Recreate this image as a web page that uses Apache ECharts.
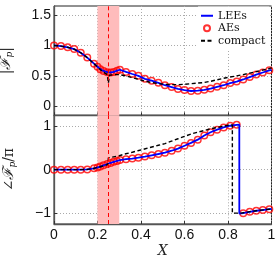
<!DOCTYPE html>
<html><head><meta charset="utf-8">
<script src="https://cdn.jsdelivr.net/npm/echarts@6/dist/echarts.min.js"></script>
<style>html,body{margin:0;padding:0;background:#fff}#c{width:278px;height:258px}</style>
</head><body><div id="c"></div>
<script>
// ---- data ----
const xTicks = [0, 0.2, 0.4, 0.6, 0.8, 1];
const magTicks = [0, 0.5, 1, 1.5];
const phaseTicks = [-1, 0, 1];
const bandRange = [0.2, 0.3];
const sourceX = 0.25;

// AEs markers (x shared by magnitude and phase)
const xAE = [0, 0.032, 0.063, 0.093, 0.123, 0.153, 0.184, 0.2, 0.213, 0.228, 0.245, 0.26, 0.275, 0.29, 0.303, 0.331, 0.36, 0.388, 0.418, 0.449, 0.48, 0.51, 0.541, 0.57, 0.6, 0.63, 0.661, 0.691, 0.72, 0.75, 0.78, 0.81, 0.84, 0.87, 0.9, 0.93, 0.96, 0.99];
const magAE = [1.00, 0.99, 0.97, 0.94, 0.88, 0.80, 0.70, 0.65, 0.61, 0.58, 0.56, 0.555, 0.565, 0.585, 0.60, 0.565, 0.53, 0.50, 0.45, 0.42, 0.385, 0.345, 0.315, 0.285, 0.265, 0.25, 0.255, 0.27, 0.29, 0.32, 0.345, 0.38, 0.405, 0.44, 0.48, 0.52, 0.555, 0.59];
const phaseAE = [0, 0, 0, 0, 0, 0.005, 0.03, 0.05, 0.07, 0.10, 0.13, 0.155, 0.18, 0.20, 0.22, 0.24, 0.255, 0.275, 0.30, 0.33, 0.36, 0.39, 0.435, 0.485, 0.55, 0.615, 0.69, 0.785, 0.86, 0.92, 0.97, 1.01, 1.03, -1.0, -0.97, -0.945, -0.93, -0.91];

// LEEs line
const xLEEmag = [0, 0.032, 0.063, 0.093, 0.123, 0.153, 0.184, 0.2, 0.213, 0.228, 0.245, 0.26, 0.275, 0.29, 0.303, 0.331, 0.36, 0.388, 0.418, 0.449, 0.48, 0.51, 0.541, 0.57, 0.6, 0.63, 0.661, 0.691, 0.72, 0.75, 0.78, 0.81, 0.84, 0.87, 0.9, 0.93, 0.96, 0.99, 1.0];
const magLEE = [1.00, 0.99, 0.97, 0.94, 0.88, 0.80, 0.70, 0.65, 0.61, 0.58, 0.56, 0.555, 0.565, 0.585, 0.60, 0.565, 0.53, 0.50, 0.45, 0.42, 0.385, 0.345, 0.315, 0.285, 0.265, 0.25, 0.255, 0.27, 0.29, 0.32, 0.345, 0.38, 0.405, 0.44, 0.48, 0.52, 0.555, 0.59, 0.60];
const xLEEphase = [0, 0.032, 0.063, 0.093, 0.123, 0.153, 0.184, 0.2, 0.213, 0.228, 0.245, 0.26, 0.275, 0.29, 0.303, 0.331, 0.36, 0.388, 0.418, 0.449, 0.48, 0.51, 0.541, 0.57, 0.6, 0.63, 0.661, 0.691, 0.72, 0.75, 0.78, 0.81, 0.84, 0.852, 0.852, 0.87, 0.9, 0.93, 0.96, 0.99, 1.0];
const phaseLEE = [0, 0, 0, 0, 0, 0.005, 0.03, 0.05, 0.07, 0.10, 0.13, 0.155, 0.18, 0.20, 0.22, 0.24, 0.255, 0.275, 0.30, 0.33, 0.36, 0.39, 0.435, 0.485, 0.55, 0.615, 0.69, 0.785, 0.86, 0.92, 0.97, 1.01, 1.03, 1.035, -1.01, -1.0, -0.97, -0.945, -0.93, -0.91, -0.905];

// compact model
const xCompactMag = [0, 0.032, 0.063, 0.093, 0.123, 0.153, 0.184, 0.2, 0.22, 0.245, 0.25, 0.255, 0.28, 0.3, 0.33, 0.36, 0.39, 0.42, 0.45, 0.48, 0.51, 0.54, 0.57, 0.6, 0.63, 0.66, 0.69, 0.72, 0.75, 0.78, 0.81, 0.84, 0.87, 0.9, 0.93, 0.96, 0.99, 1.0];
const magCompact = [1.0, 0.99, 0.97, 0.94, 0.88, 0.80, 0.70, 0.645, 0.58, 0.52, 0.38, 0.51, 0.52, 0.52, 0.50, 0.47, 0.44, 0.41, 0.39, 0.37, 0.36, 0.355, 0.355, 0.36, 0.37, 0.38, 0.39, 0.41, 0.435, 0.46, 0.48, 0.50, 0.52, 0.545, 0.57, 0.595, 0.62, 0.63];
const xCompactPhase = [0, 0.032, 0.063, 0.093, 0.123, 0.153, 0.184, 0.2, 0.23, 0.248, 0.25, 0.28, 0.3, 0.33, 0.36, 0.39, 0.42, 0.45, 0.48, 0.51, 0.54, 0.57, 0.6, 0.63, 0.66, 0.69, 0.72, 0.75, 0.78, 0.8, 0.82, 0.82, 0.86, 0.9, 0.93, 0.96, 1.0];
const phaseCompact = [0, 0, 0, 0, 0, 0.005, 0.03, 0.05, 0.09, 0.12, 0.27, 0.30, 0.32, 0.365, 0.40, 0.44, 0.48, 0.52, 0.56, 0.60, 0.655, 0.71, 0.765, 0.82, 0.86, 0.90, 0.94, 0.97, 1.0, 1.02, 1.03, -1.0, -1.0, -0.965, -0.945, -0.925, -0.905];

function zip(xs, ys) { return xs.map((x, i) => [x, ys[i]]); }

const tickFont = { fontFamily: 'Liberation Sans, Arial, sans-serif', fontSize: 14, color: '#111' };
const gridLine = { show: true, lineStyle: { color: '#aaa', type: [1, 2], width: 1 } };
const frameColor = '#222';
const noSymbol = 'rgba(0,0,0,0)';

function xAxisCfg(gridIndex, showLabels) {
  return {
    type: 'value', gridIndex, min: xTicks[0], max: xTicks[xTicks.length - 1], interval: 0.2,
    axisLine: { show: true, onZero: false, lineStyle: { color: '#555', width: 1.3 } },
    axisTick: { show: true, inside: true, length: 3, lineStyle: { color: '#333' } },
    axisLabel: Object.assign({ show: showLabels, margin: 4 }, tickFont),
    splitLine: gridLine
  };
}

function yAxisCfg(gridIndex, min, max, ticks, name, gap) {
  return {
    type: 'value', gridIndex, min, max,
    axisLine: { show: true, onZero: false, lineStyle: { color: '#555', width: 1.3 } },
    axisTick: { show: true, inside: true, length: 3, customValues: ticks, lineStyle: { color: '#333' } },
    axisLabel: Object.assign({ margin: 3, customValues: ticks, formatter: v => String(v).replace('-', '\u2212') }, tickFont),
    splitLine: gridLine,
    name, nameLocation: 'middle', nameGap: gap, nameRotate: 90,
    nameTextStyle: {
      fontFamily: 'DejaVu Serif, serif', fontSize: 14, color: '#222',
      rich: {
        f: { fontFamily: 'DejaVu Serif, serif', fontSize: 15, color: '#222', fontStyle: 'italic' },
        s: { fontFamily: 'DejaVu Serif, serif', fontSize: 9, color: '#222', fontStyle: 'italic', padding: [6, 0, 0, 0] }
      }
    }
  };
}

const chart = echarts.init(document.getElementById('c'), null, { renderer: 'canvas' });
chart.setOption({
  animation: false,
  backgroundColor: '#fff',
  grid: [
    { left: 54, top: 6, width: 217.5, height: 109.3, show: true, borderColor: frameColor, borderWidth: 1, backgroundColor: '#fff', containLabel: false, outerBoundsMode: 'none' },
    { left: 54, top: 115.3, width: 217.5, height: 108.7, show: true, borderColor: frameColor, borderWidth: 1, backgroundColor: '#fff', containLabel: false, outerBoundsMode: 'none' }
  ],
  xAxis: [
    xAxisCfg(0, false),
    Object.assign(xAxisCfg(1, true), {
      name: 'X', nameLocation: 'middle', nameGap: 20,
      nameTextStyle: { fontFamily: 'DejaVu Serif, serif', fontStyle: 'italic', fontSize: 14, color: '#222' }
    })
  ],
  yAxis: [
    yAxisCfg(0, -0.15, 1.65, magTicks, '|{f|\u2131}{s|p}|', 40),
    yAxisCfg(1, -1.25, 1.25, phaseTicks, '\u2220{f|\u2131}{s|p}/\u03c0', 37)
  ],
  legend: {
    data: ['LEEs', 'AEs', 'compact'],
    orient: 'vertical', left: 198, top: 6.5,
    itemWidth: 12, itemHeight: 6, itemGap: 0,
    padding: [3, 4, 3, 2],
    backgroundColor: '#fff',
    textStyle: { fontFamily: 'DejaVu Serif, serif', fontSize: 11, lineHeight: 12.5, color: '#111' }
  },
  series: [0, 1].map(g => ({
    type: 'line', xAxisIndex: g, yAxisIndex: g, data: [], silent: true,
    markArea: { silent: true, itemStyle: { color: '#ffbcbc', opacity: 1 }, data: [[{ xAxis: bandRange[0] }, { xAxis: bandRange[1] }]] },
    markLine: { silent: true, symbol: 'none', label: { show: false }, lineStyle: { color: '#ff0000', type: [4, 3], width: 1 }, data: [{ xAxis: sourceX }] }
  })).concat([
    { name: 'LEEs', type: 'line', xAxisIndex: 0, yAxisIndex: 0, data: zip(xLEEmag, magLEE), symbol: 'none', lineStyle: { color: '#0000ff', width: 1.8 }, itemStyle: { color: noSymbol, borderColor: noSymbol } },
    { name: 'AEs', type: 'scatter', xAxisIndex: 0, yAxisIndex: 0, data: zip(xAE, magAE), symbol: 'circle', symbolSize: 6.5, itemStyle: { color: 'rgba(0,0,0,0)', borderColor: '#ff0000', borderWidth: 1.5 } },
    { name: 'compact', type: 'line', xAxisIndex: 0, yAxisIndex: 0, data: zip(xCompactMag, magCompact), symbol: 'none', lineStyle: { color: '#000', width: 1.4, type: [4, 2.5] }, itemStyle: { color: noSymbol, borderColor: noSymbol } },
    { name: 'LEEs', type: 'line', xAxisIndex: 1, yAxisIndex: 1, data: zip(xLEEphase, phaseLEE), symbol: 'none', lineStyle: { color: '#0000ff', width: 1.8 }, itemStyle: { color: noSymbol, borderColor: noSymbol } },
    { name: 'AEs', type: 'scatter', xAxisIndex: 1, yAxisIndex: 1, data: zip(xAE, phaseAE), symbol: 'circle', symbolSize: 6.5, itemStyle: { color: 'rgba(0,0,0,0)', borderColor: '#ff0000', borderWidth: 1.5 } },
    { name: 'compact', type: 'line', xAxisIndex: 1, yAxisIndex: 1, data: zip(xCompactPhase, phaseCompact), symbol: 'none', lineStyle: { color: '#000', width: 1.4, type: [4, 2.5] }, itemStyle: { color: noSymbol, borderColor: noSymbol } }
  ])
});
</script></body></html>
